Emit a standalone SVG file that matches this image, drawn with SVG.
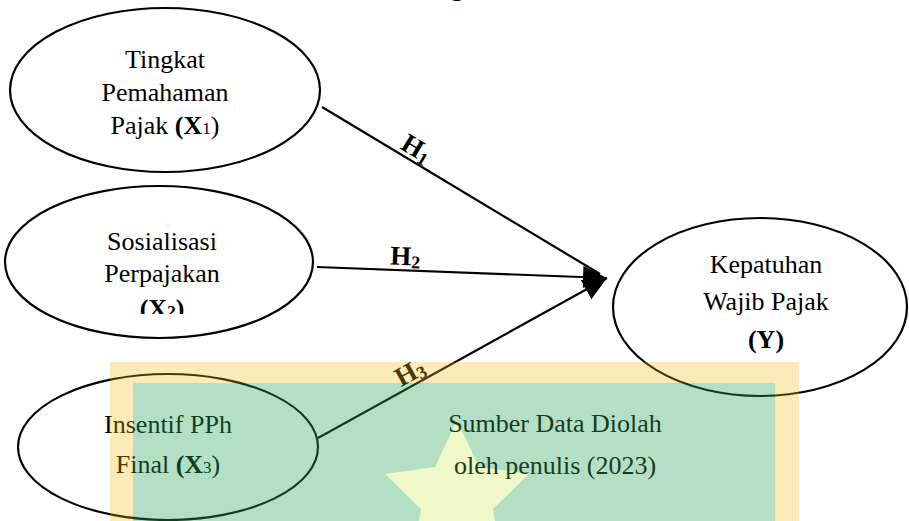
<svg xmlns="http://www.w3.org/2000/svg" width="909" height="521" viewBox="0 0 909 521">
<style>
.node ellipse{fill:#fff;stroke:#000;stroke-width:2.2}
.t{font-family:"Liberation Serif","Times New Roman",serif;font-size:26px;fill:#000;text-anchor:middle}
.b{font-weight:bold}
.sub{font-size:17px}
.conn line{stroke:#000;stroke-width:2.2}
.h{font-family:"Liberation Serif","Times New Roman",serif;font-size:27px;font-weight:bold;fill:#000;text-anchor:middle}
.hs{font-size:18px}
.note{fill:#173b22}
</style>
<defs>
<marker id="ah" markerUnits="userSpaceOnUse" markerWidth="26" markerHeight="22" refX="24" refY="11" orient="auto">
<path d="M0,0 L24,11 L0,22 Z" fill="#000"/>
</marker>
<clipPath id="clipx2"><rect x="0" y="180" width="330" height="134"/></clipPath>
</defs>
<rect width="909" height="521" fill="#fff"/>
<text class="t b" x="457" y="-4">g</text>

<g id="conn" class="conn">
<line x1="322" y1="107" x2="600" y2="274"/>
<line x1="317" y1="267" x2="607" y2="278" marker-end="url(#ah)"/>
<line x1="318" y1="438" x2="607" y2="278" marker-end="url(#ah)"/>
<text class="h" transform="translate(412,156) rotate(31)">H<tspan class="hs" dy="3">1</tspan></text>
<text class="h" transform="translate(405,265) rotate(2)">H<tspan class="hs" dy="3">2</tspan></text>
<text class="h" transform="translate(414,380) rotate(-29)">H<tspan class="hs" dy="3">3</tspan></text>
</g>

<g id="x1" class="node">
<ellipse cx="165" cy="90" rx="155" ry="82"/>
<text class="t" x="165" y="68">Tingkat</text>
<text class="t" x="165" y="101">Pemahaman</text>
<text class="t" x="165" y="134">Pajak <tspan class="b">(X</tspan><tspan class="sub">1</tspan>)</text>
</g>

<g id="x2" class="node">
<ellipse cx="159" cy="262" rx="154" ry="76"/>
<text class="t" x="162" y="250">Sosialisasi</text>
<text class="t" x="162" y="282">Perpajakan</text>
<text class="t b" x="162" y="317" clip-path="url(#clipx2)">(X<tspan class="sub">2</tspan>)</text>
</g>

<g id="x3" class="node">
<ellipse cx="168" cy="447" rx="150" ry="73"/>
<text class="t" x="168" y="433">Insentif PPh</text>
<text class="t" x="168" y="473">Final <tspan class="b">(X</tspan><tspan class="sub">3</tspan>)</text>
</g>

<g id="y" class="node">
<ellipse cx="760" cy="307" rx="147" ry="89"/>
<text class="t" x="766" y="273">Kepatuhan</text>
<text class="t" x="766" y="310">Wajib Pajak</text>
<text class="t b" x="766" y="348">(Y)</text>
</g>

<g id="watermark">
<path d="M110,362 H799 V521 H110 Z M133,383 V521 H775 V383 Z" fill="rgb(245,185,20)" fill-opacity="0.3" fill-rule="evenodd"/>
<rect x="133" y="383" width="642" height="138" fill="rgb(44,169,94)" fill-opacity="0.36"/>
<polygon points="457,420 479,467 529,474 493,509 502,559 457,535 412,559 421,509 385,474 435,467" fill="#fffcc8" fill-opacity="0.8"/>
</g>

<g id="note">
<text class="t note" x="555" y="432">Sumber Data Diolah</text>
<text class="t note" x="555" y="474">oleh penulis (2023)</text>
</g>
</svg>
